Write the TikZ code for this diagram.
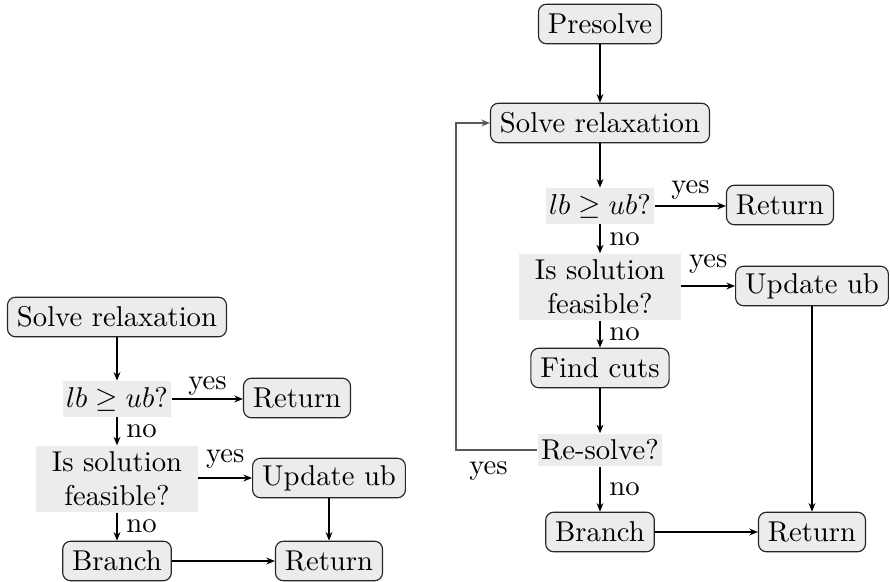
\documentclass[tikz,border=0pt]{standalone}
\usetikzlibrary{arrows.meta}
\begin{document}
\begin{tikzpicture}[x=0.3487pt,y=-0.3487pt,
  procbox/.style={draw=black!85, fill=gray!15, rounded corners=2.8pt, inner xsep=3.3pt, inner ysep=0pt, minimum height=13.8pt},
  decbox/.style={fill=gray!15, inner xsep=1.2pt, inner ysep=2pt, align=center},
  widedec/.style={decbox, text width=54pt},
  flow/.style={line width=0.5pt, -{Stealth[length=3pt,width=2.4pt,inset=1pt]}},
  loopline/.style={draw=black!65, line width=0.4pt, -{Stealth[length=3pt,width=2.4pt,inset=1pt]}},
  lbl/.style={inner sep=1pt}]
\useasboundingbox (0,0) rectangle (890,582);
% left chart
\node[procbox] (ls) at (117,317) {Solve relaxation};
\node[decbox] (llb) at (117,399) {$lb \geq ub$?};
\node[procbox] (lret1) at (297,398) {Return};
\node[widedec] (lfeas) at (117,479) {Is solution\\feasible?};
\node[procbox] (lupd) at (329,478) {Update ub};
\node[procbox] (lbr) at (117,561) {Branch};
\node[procbox] (lret2) at (329,561) {Return};
\draw[flow] (ls) -- (llb);
\draw[flow] (llb.east) -- node[lbl, above=0pt] {yes} (llb.east -| lret1.west);
\draw[flow] (llb) -- node[lbl, right=2pt] {no} (lfeas);
\draw[flow] (lfeas.east |- lupd.west) -- node[lbl, above=2pt] {yes} (lupd.west);
\draw[flow] (lfeas) -- node[lbl, right=2pt] {no} (lbr);
\draw[flow] (lupd) -- (lret2);
\draw[flow] (lbr) -- (lret2);
% right chart
\node[procbox] (pre) at (600,24) {Presolve};
\node[procbox] (rs) at (600,123) {Solve relaxation};
\node[decbox] (rlb) at (600,206) {$lb \geq ub$?};
\node[procbox] (rret1) at (780,205) {Return};
\node[widedec] (rfeas) at (600,287) {Is solution\\feasible?};
\node[procbox] (rupd) at (812,286) {Update ub};
\node[procbox] (cuts) at (600,368) {Find cuts};
\node[decbox] (res) at (600,450) {Re-solve?};
\node[procbox] (rbr) at (600,532) {Branch};
\node[procbox] (rret2) at (812,532) {Return};
\coordinate (loopc) at (456,123);
\draw[flow] (pre) -- (rs);
\draw[flow] (rs) -- (rlb);
\draw[flow] (rlb.east) -- node[lbl, above=1pt] {yes} (rlb.east -| rret1.west);
\draw[flow] (rlb) -- node[lbl, right=2pt] {no} (rfeas);
\draw[flow] (rfeas.east |- rupd.west) -- node[lbl, above=3pt] {yes} (rupd.west);
\draw[flow] (rfeas) -- node[lbl, right=2pt] {no} (cuts);
\draw[flow] (cuts) -- (res);
\draw[flow] (res) -- node[lbl, right=2pt] {no} (rbr);
\draw[loopline] (res.west) -| node[lbl, below=3pt, pos=0.3] {yes} (loopc) |- (rs.west);
\draw[flow] (rupd) -- (rret2);
\draw[flow] (rbr) -- (rret2);
\end{tikzpicture}
\end{document}
